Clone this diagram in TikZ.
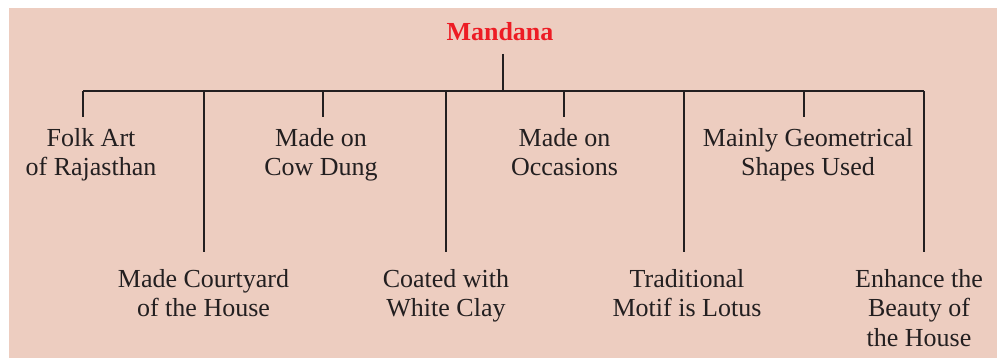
\documentclass[tikz,border=0pt]{standalone}
\usepackage{fontspec}
\setmainfont{Liberation Serif}
\usepackage{xcolor}
\definecolor{bgpink}{RGB}{237,205,192}
\definecolor{inkgray}{RGB}{35,31,32}
\definecolor{titlered}{RGB}{237,28,36}

\begin{document}
\begin{tikzpicture}[x=1pt,y=-1pt]
    % --- DEFINE STYLES ---
    % Style for the feature texts
    \tikzstyle{leaf} = [align=center, inner xsep=0pt, text=inkgray, anchor=north, font=\fontsize{26}{29.5}\selectfont]
    % Style for upper row features (short branches)
    \tikzstyle{top_leaf} = [leaf, inner ysep=11pt]
    % Style for lower row features (long branches)
    \tikzstyle{low_leaf} = [leaf, inner ysep=17pt]
    % Style for the tree lines
    \tikzstyle{branch} = [draw=inkgray, line width=1.9pt]

    % Background panel
    \useasboundingbox (0,0) rectangle (997,358);
    \fill[bgpink] (9,8) rectangle (997,358);

    % Title
    \node[anchor=south, inner xsep=0pt, inner ysep=13pt, text=titlered, font=\fontsize{26}{29.5}\selectfont\bfseries] (mandana) at (500,54) {Mandana};

    % --- FEATURE NODES ---
    \node[top_leaf] (leaf1) at (91,117) {Folk Art\\of Rajasthan};
    \node[low_leaf] (leaf2) at (203.5,252) {Made Courtyard\\of the House};
    \node[top_leaf] (leaf3) at (321,117) {Made on\\Cow Dung};
    \node[low_leaf] (leaf4) at (446,252) {Coated with\\White Clay};
    \node[top_leaf] (leaf5) at (564.5,117) {Made on\\Occasions};
    \node[low_leaf] (leaf6) at (687,252) {Traditional\\Motif is Lotus};
    \node[top_leaf] (leaf7) at (808,117) {Mainly Geometrical\\Shapes Used};
    \node[low_leaf] (leaf8) at (919,252) {Enhance the\\Beauty of\\the House};

    % Branch points on the bar
    \coordinate (hub) at (503,91);
    \foreach \i/\x in {1/83,2/204,3/323,4/446,5/564,6/684,7/804,8/924} {
        \coordinate (b\i) at (\x,91);
    }

    % --- DRAW TREE ---
    \draw[branch] (mandana.south -| hub) -- (hub);
    \draw[branch] (b1) -- (b8);
    \foreach \i in {1,...,8} {
        \draw[branch] (b\i) -- (b\i |- leaf\i.north);
    }
\end{tikzpicture}
\end{document}
